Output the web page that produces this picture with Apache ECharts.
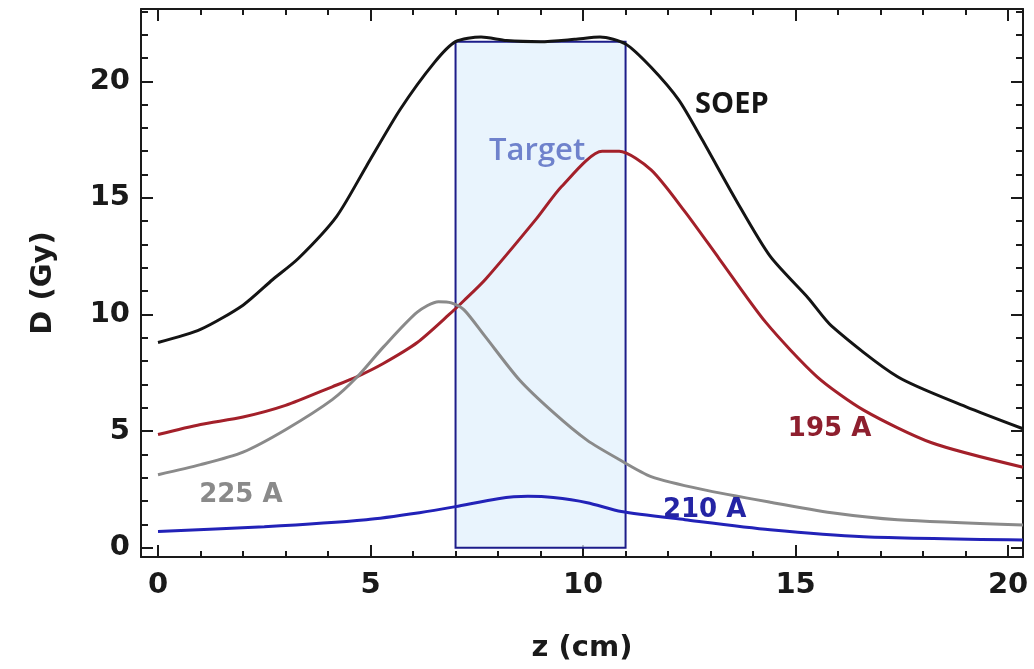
<!DOCTYPE html>
<html>
<head>
<meta charset="utf-8">
<script src="https://cdn.jsdelivr.net/npm/echarts@6/dist/echarts.min.js"></script>
<style>
  html, body { margin: 0; padding: 0; background: #fff; }
  #chart { width: 1034px; height: 669px; }
</style>
</head>
<body>
<div id="chart"></div>
<script>
// dose profiles, D (Gy) vs z (cm)
var soepZ = [0, 1, 2, 2.7, 3.3, 4.2, 4.9, 5.7, 6.5, 7, 7.6, 8.2, 9, 9.8, 10.4, 11, 11.6, 12.25, 12.8, 13.6, 14.4, 15.3, 15.85, 17.4, 19.0, 20.35];
var soepD = [8.8, 9.36, 10.4, 11.5, 12.4, 14.2, 16.35, 18.8, 20.8, 21.7, 21.9, 21.75, 21.7, 21.8, 21.9, 21.6, 20.6, 19.2, 17.5, 14.9, 12.5, 10.7, 9.5, 7.33, 6.05, 5.1];

var a195Z = [0, 1, 2, 3, 4.1, 4.7, 5.3, 6.1, 6.85, 7.2, 7.7, 8.9, 9.5, 10.45, 10.85, 11.6, 12.4, 13.2, 14.3, 15.5, 16.6, 18.2, 20.35];
var a195D = [4.85, 5.28, 5.6, 6.1, 6.9, 7.35, 7.9, 8.8, 10.0, 10.6, 11.5, 14.1, 15.5, 17.0, 17.0, 16.2, 14.4, 12.4, 9.66, 7.34, 5.9, 4.5, 3.45];

var a225Z = [0, 1, 2, 3, 4.1, 4.7, 5.3, 6.1, 6.6, 6.9, 7.2, 7.7, 8.5, 9.3, 10.1, 10.85, 11.6, 12.8, 14.4, 15.85, 17.4, 20.35];
var a225D = [3.13, 3.56, 4.1, 5.06, 6.35, 7.35, 8.6, 10.1, 10.55, 10.5, 10.2, 9.05, 7.2, 5.8, 4.6, 3.78, 3.05, 2.5, 1.95, 1.5, 1.2, 0.97];

var a210Z = [0, 2.5, 4.9, 6.15, 7.0, 8.0, 8.7, 9.3, 10.1, 10.9, 12.4, 14.4, 16.6, 20.35];
var a210D = [0.69, 0.9, 1.2, 1.5, 1.76, 2.1, 2.2, 2.15, 1.93, 1.55, 1.2, 0.77, 0.47, 0.33];

// target region
var targetZ = [7, 11];
var targetD = 21.7;

// tick labels
var xMajor = [0, 5, 10, 15, 20];
var xMinor = [];
for (var i = 0; i <= 20; i++) xMinor.push(i);
var yMajor = [0, 5, 10, 15, 20];
var yMinor = [];
for (var j = 0; j <= 23; j++) yMinor.push(j);

// curve labels: text, z, D
var labelText = ['SOEP', 'Target', '195 A', '225 A', '210 A'];
var labelZ = [13.5, 8.92, 15.8, 1.95, 12.86];
var labelD = [19.0, 17.0, 5.06, 2.23, 1.59];

function pairs(zs, ds) {
    var out = [];
    for (var k = 0; k < zs.length; k++) out.push([zs[k], ds[k]]);
    return out;
}

var labelStyles = [
    { color: '#151515', fontFamily: 'Open Sans', fontWeight: 700, fontSize: 29 },
    { color: '#6f82cc', fontFamily: 'Open Sans', fontWeight: 600, fontSize: 31 },
    { color: '#8e1f2e', fontFamily: 'DejaVu Sans', fontWeight: 'bold', fontSize: 26 },
    { color: '#8a8a8a', fontFamily: 'DejaVu Sans', fontWeight: 'bold', fontSize: 26 },
    { color: '#2424a4', fontFamily: 'DejaVu Sans', fontWeight: 'bold', fontSize: 26 }
];
var labelData = labelText.map(function (t, k) {
    return { name: t, value: [labelZ[k], labelD[k]], label: labelStyles[k] };
});

var myChart = echarts.init(document.getElementById('chart'));

var axisFont = { fontFamily: 'DejaVu Sans', fontWeight: 'bold', fontSize: 29, color: '#1a1a1a' };

function xAx(pos, vals, len, major) {
    var withText = major && pos === 'bottom';
    return {
        type: 'value', position: pos, min: -0.4, max: 20.35,
        axisLine: { show: major, onZero: false, lineStyle: { color: '#1a1a1a', width: 2 } },
        axisTick: { show: true, inside: true, length: len, customValues: vals, lineStyle: { color: '#1a1a1a', width: 2 } },
        axisLabel: withText ? Object.assign({ show: true, margin: 14, customValues: xMajor }, axisFont) : { show: false },
        splitLine: { show: false },
        name: withText ? 'z (cm)' : '',
        nameLocation: 'middle', nameGap: 77,
        nameTextStyle: axisFont
    };
}
function yAx(pos, vals, len, major) {
    var withText = major && pos === 'left';
    return {
        type: 'value', position: pos, min: -0.4, max: 23.1,
        axisLine: { show: major, onZero: false, lineStyle: { color: '#1a1a1a', width: 2 } },
        axisTick: { show: true, inside: true, length: len, customValues: vals, lineStyle: { color: '#1a1a1a', width: 2 } },
        axisLabel: withText ? Object.assign({ show: true, margin: 11, customValues: yMajor }, axisFont) : { show: false },
        splitLine: { show: false },
        name: withText ? 'D (Gy)' : '',
        nameLocation: 'middle', nameGap: 83,
        nameTextStyle: axisFont
    };
}

var option = {
    animation: false,
    backgroundColor: '#fff',
    grid: { left: 141, right: 11, top: 9, bottom: 112 },
    xAxis: [
        xAx('bottom', xMajor, 12, true),
        xAx('bottom', xMinor, 6, false),
        xAx('top', xMajor, 12, true),
        xAx('top', xMinor, 6, false)
    ],
    yAxis: [
        yAx('left', yMajor, 12, true),
        yAx('left', yMinor, 7, false),
        yAx('right', yMajor, 12, true),
        yAx('right', yMinor, 7, false)
    ],
    series: [
        {
            name: 'target', type: 'line', data: [], z: 1,
            markArea: {
                silent: true,
                itemStyle: { color: 'rgba(226,240,252,0.75)', borderColor: '#1d1d8a', borderWidth: 2 },
                data: [[{ xAxis: targetZ[0], yAxis: 0 }, { xAxis: targetZ[1], yAxis: targetD }]]
            }
        },
        {
            name: 'SOEP', type: 'line', smooth: 0.25, showSymbol: false, z: 3,
            lineStyle: { color: '#141414', width: 3 },
            data: pairs(soepZ, soepD)
        },
        {
            name: '195 A', type: 'line', smooth: 0.25, showSymbol: false, z: 3,
            lineStyle: { color: '#a3202a', width: 3 },
            data: pairs(a195Z, a195D)
        },
        {
            name: '225 A', type: 'line', smooth: 0.25, showSymbol: false, z: 3,
            lineStyle: { color: '#8a8a8a', width: 3 },
            data: pairs(a225Z, a225D)
        },
        {
            name: '210 A', type: 'line', smooth: 0.25, showSymbol: false, z: 3,
            lineStyle: { color: '#2222b8', width: 3 },
            data: pairs(a210Z, a210D)
        },
        {
            name: 'labels', type: 'scatter', symbolSize: 0, z: 5,
            itemStyle: { opacity: 1 },
            label: { show: true, position: 'inside', formatter: '{b}', opacity: 1 },
            data: labelData
        }
    ]
};

myChart.setOption(option);
</script>
</body>
</html>
